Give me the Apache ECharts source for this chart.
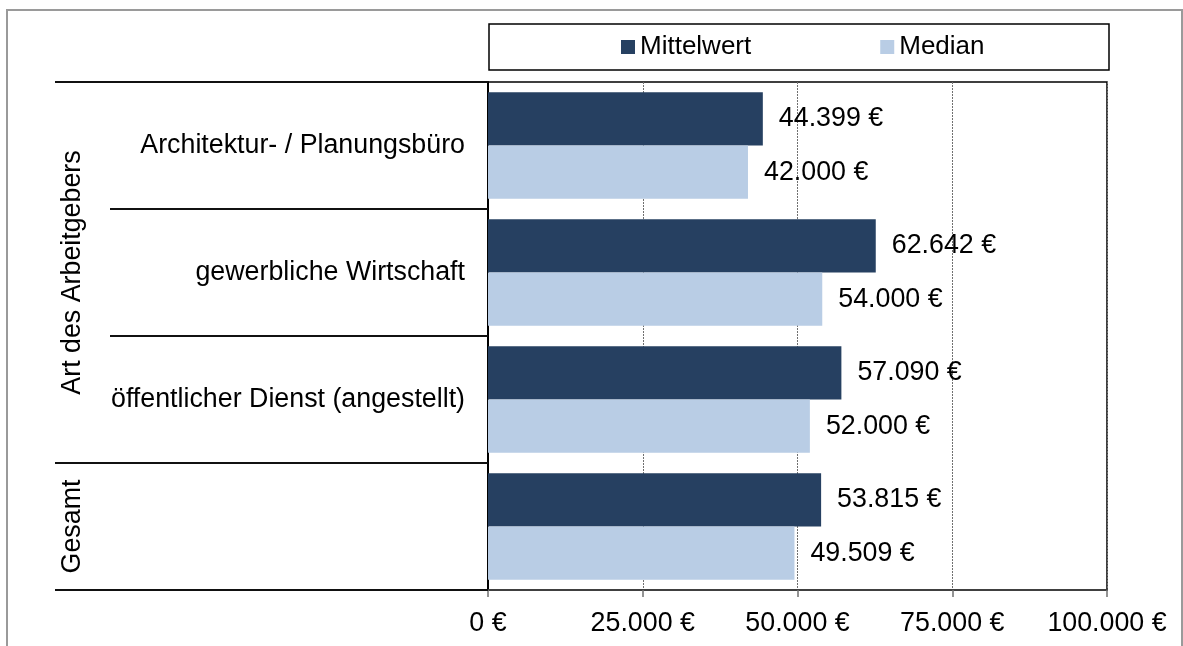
<!DOCTYPE html>
<html><head><meta charset="utf-8">
<script src="https://cdn.jsdelivr.net/npm/echarts@6/dist/echarts.min.js"></script>
<style>html,body{margin:0;padding:0;background:#fff}#c{width:1183px;height:646px}</style>
</head><body><div id="c"></div>
<script>
const categories = ['Architektur- / Planungsbüro', 'gewerbliche Wirtschaft', 'öffentlicher Dienst (angestellt)', 'Gesamt'];
const groupNames = ['Art des Arbeitgebers', 'Gesamt'];
const groupSizes = [3, 1];
const seriesNames = ['Mittelwert', 'Median'];
const mittelwert = [44399, 62642, 57090, 53815];
const median = [42000, 54000, 52000, 49509];
const xMin = 0, xMax = 100000, xStep = 25000;

const FONT = '"Liberation Sans", Arial, sans-serif';
const FS = 26.8;
const fmt = v => String(Math.round(v)).replace(/\B(?=(\d{3})+(?!\d))/g, '.') + ' €';

// categories that sit in a single-item group are labelled in the group column only
const hideInner = new Set();
{ let idx = 0; groupSizes.forEach((s, g) => { if (s === 1) hideInner.add(categories[idx]); idx += s; }); }

const chart = echarts.init(document.getElementById('c'), null, { renderer: 'canvas' });
const option = {
  animation: false,
  backgroundColor: '#fff',
  textStyle: { fontFamily: FONT },
  legend: {
    data: seriesNames, left: 621, top: 34, padding: 0,
    icon: 'rect', itemWidth: 14, itemHeight: 14, itemGap: 129,
    textStyle: { fontSize: 26, color: '#000', fontFamily: FONT, padding: [0, 0, 0, 0] }
  },
  grid: { left: 488, right: 76, top: 82, bottom: 56, show: true, borderColor: '#000', borderWidth: 1.5, containLabel: false },
  xAxis: {
    type: 'value', min: xMin, max: xMax, interval: xStep,
    axisLine: { show: true, lineStyle: { color: '#404040', width: 2 } },
    axisTick: { show: true, length: 7, lineStyle: { color: '#707070', width: 1.5 } },
    axisLabel: { fontSize: FS, color: '#000', margin: 20, formatter: fmt, fontFamily: FONT },
    splitLine: { show: true, lineStyle: { color: '#707070', type: [2, 1], width: 1 } }
  },
  yAxis: {
    type: 'category', data: categories, inverse: true,
    axisLine: { show: true, lineStyle: { color: '#000', width: 2 } },
    axisTick: { show: false },
    axisLabel: { fontSize: FS, color: '#000', margin: 23, fontFamily: FONT,
      formatter: v => hideInner.has(v) ? '' : v }
  },
  series: [
    { name: seriesNames[0], type: 'bar', data: mittelwert, barGap: '0%', barCategoryGap: '16%',
      itemStyle: { color: '#264061' },
      label: { show: true, position: 'right', distance: 16, fontSize: FS, color: '#000', fontFamily: FONT,
        formatter: p => fmt(p.value) } },
    { name: seriesNames[1], type: 'bar', data: median, barGap: '0%', barCategoryGap: '16%',
      itemStyle: { color: '#B9CDE5' },
      label: { show: true, position: 'right', distance: 16, fontSize: FS, color: '#000', fontFamily: FONT,
        formatter: p => fmt(p.value) } }
  ]
};
chart.setOption(option);

// hierarchical category frame derived from the axis scale
const c0 = chart.convertToPixel({ yAxisIndex: 0 }, categories[0]);
const c1 = chart.convertToPixel({ yAxisIndex: 0 }, categories[1]);
const band = c1 - c0;
const axisX = chart.convertToPixel({ xAxisIndex: 0 }, xMin);
const edge = k => c0 + (k - 0.5) * band;
const groupEdges = new Set([0]);
{ let acc = 0; groupSizes.forEach(s => { acc += s; groupEdges.add(acc); }); }
const graphics = [];
for (let k = 0; k <= categories.length; k++) {
  const y = Math.round(edge(k));
  const x0 = groupEdges.has(k) ? 55 : 110;
  graphics.push({ type: 'line', shape: { x1: x0, y1: y, x2: axisX, y2: y }, style: { stroke: '#111', lineWidth: 2 }, z: 10 });
}
{ let start = 0; groupSizes.forEach((s, g) => {
  const yc = (edge(start) + edge(start + s)) / 2;
  graphics.push({ type: 'text', x: 73, y: yc, rotation: Math.PI / 2,
    style: { text: groupNames[g], fontSize: FS, fontFamily: FONT, fill: '#000', align: 'center', verticalAlign: 'middle' }, z: 10 });
  start += s; }); }
// legend frame and outer chart frame
graphics.push({ type: 'rect', shape: { x: 489, y: 24, width: 620, height: 46 }, style: { fill: 'none', stroke: '#000', lineWidth: 1.5 }, z: 5 });
graphics.push({ type: 'rect', shape: { x: 7, y: 10, width: 1175, height: 700 }, style: { fill: 'none', stroke: '#9a9a9a', lineWidth: 2 }, z: 5 });
chart.setOption({ graphic: graphics });
</script></body></html>
